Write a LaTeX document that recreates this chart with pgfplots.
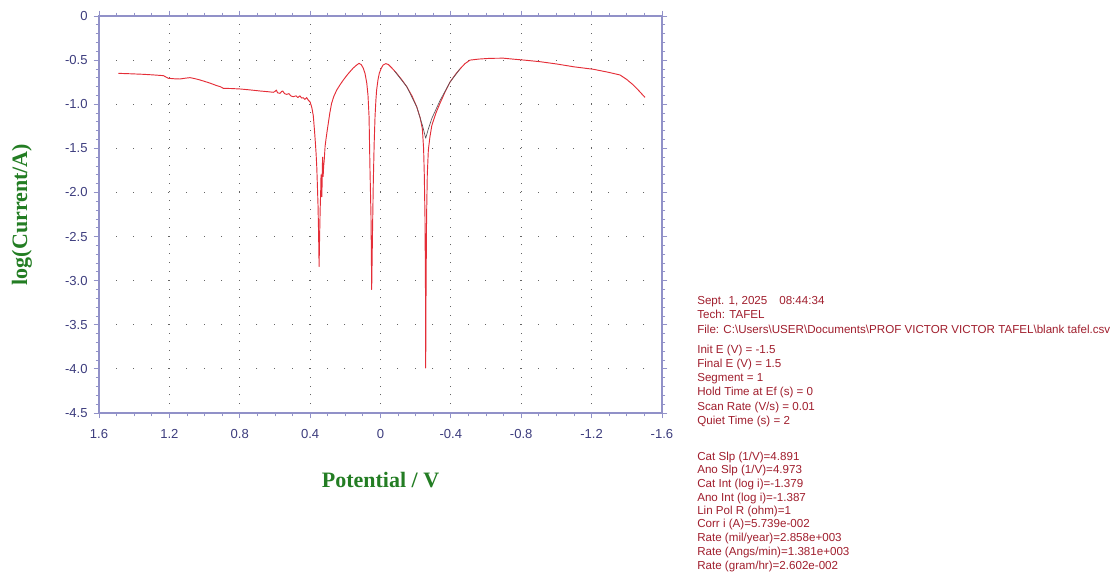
\documentclass[border=0pt]{standalone}
\usepackage{pgfplots}
\pgfplotsset{compat=1.18}
\usepackage{fontspec}
\setmainfont{Liberation Sans}
\newfontfamily\labelserif{Liberation Serif}

\definecolor{curvered}{RGB}{228,45,55}
\definecolor{fitgray}{RGB}{95,85,90}
\definecolor{frameblue}{RGB}{145,145,200}
\definecolor{ticktext}{RGB}{60,60,125}
\definecolor{labelgreen}{RGB}{35,125,35}
\definecolor{infored}{RGB}{160,30,45}
\definecolor{griddot}{RGB}{100,100,100}

\begin{document}
\begin{tikzpicture}
\useasboundingbox (0pt,0pt) rectangle (837.75pt,-430.5pt);
\begin{axis}[
  at={(74.25pt,-12pt)}, anchor=north west,
  scale only axis, width=422.25pt, height=297.75pt,
  x dir=reverse,
  xmin=-1.6, xmax=1.6, ymin=-4.5, ymax=0,
  xtick={-1.6,-1.2,-0.8,-0.4,0,0.4,0.8,1.2,1.6},
  xticklabels={-1.6,-1.2,-0.8,-0.4,0,0.4,0.8,1.2,1.6},
  ytick={-4.5,-4,-3.5,-3,-2.5,-2,-1.5,-1,-0.5,0},
  yticklabels={-4.5,-4.0,-3.5,-3.0,-2.5,-2.0,-1.5,-1.0,-0.5,0},
  minor x tick num=3, minor y tick num=4,
  tick align=outside,
  major tick length=4pt, minor tick length=2.5pt,
  every tick/.style={frameblue, line width=0.6pt},
  axis line style={frameblue, line width=1pt},
  tick label style={ticktext, font=\fontsize{9.8}{11}\selectfont},
  /pgf/number format/assume math mode=true,
  xticklabel style={yshift=-5pt},
  yticklabel style={xshift=-1pt},
  grid=major,
  x grid style={griddot, line width=0.7pt, dash pattern=on 0.7pt off 5.917pt},
  y grid style={griddot, line width=0.7pt, dash pattern=on 0.7pt off 12.495pt},
  xlabel={Potential / V},
  ylabel={log(Current/A)},
  xlabel style={at={(axis description cs:0.5,-0.169)}, anchor=center,
    font=\labelserif\bfseries\fontsize{16.5}{18}\selectfont, labelgreen},
  ylabel style={at={(axis description cs:-0.137,0.5)}, anchor=center, rotate=0,
    font=\labelserif\bfseries\fontsize{16.5}{18}\selectfont, labelgreen},
]
% measured log current against potential
\addplot[curvered, line width=0.7pt, line join=round] coordinates {
(1.490,-0.650) (1.420,-0.655) (1.348,-0.661) (1.290,-0.668) (1.234,-0.676)
(1.206,-0.706) (1.170,-0.712) (1.140,-0.714) (1.110,-0.705) (1.083,-0.699)
(1.055,-0.710) (1.026,-0.725) (0.970,-0.760) (0.930,-0.790) (0.912,-0.800)
(0.893,-0.820) (0.850,-0.822) (0.800,-0.827) (0.740,-0.838) (0.685,-0.850)
(0.640,-0.858) (0.609,-0.865) (0.600,-0.855) (0.592,-0.840) (0.585,-0.870)
(0.571,-0.877) (0.562,-0.855) (0.556,-0.850) (0.545,-0.880) (0.533,-0.888)
(0.520,-0.880) (0.510,-0.905) (0.496,-0.915) (0.480,-0.905) (0.470,-0.925)
(0.458,-0.905) (0.448,-0.930) (0.439,-0.926) (0.430,-0.945) (0.420,-0.925)
(0.410,-0.955) (0.400,-0.975) (0.390,-1.040) (0.382,-1.130) (0.375,-1.300)
(0.370,-1.440) (0.366,-1.560) (0.362,-1.720) (0.359,-1.900) (0.355,-2.150)
(0.352,-2.450) (0.349,-2.840) (0.346,-2.500) (0.343,-2.200) (0.340,-2.000)
(0.338,-1.800) (0.336,-1.950) (0.333,-2.050) (0.331,-1.750) (0.329,-1.600)
(0.326,-1.820) (0.323,-1.700) (0.320,-1.640) (0.315,-1.480) (0.310,-1.400)
(0.303,-1.300) (0.297,-1.220) (0.288,-1.100) (0.278,-0.990) (0.265,-0.910)
(0.249,-0.840) (0.230,-0.780) (0.211,-0.725) (0.190,-0.670) (0.173,-0.630)
(0.155,-0.590) (0.135,-0.555) (0.122,-0.537) (0.110,-0.550) (0.098,-0.590)
(0.088,-0.650) (0.078,-0.760) (0.071,-0.900) (0.065,-1.140) (0.060,-1.710)
(0.054,-2.270) (0.050,-3.100) (0.045,-2.400) (0.041,-1.900) (0.036,-1.450)
(0.031,-1.140) (0.026,-0.950) (0.022,-0.840) (0.014,-0.720) (0.007,-0.650)
(-0.005,-0.590) (-0.015,-0.555) (-0.030,-0.540) (-0.045,-0.550) (-0.065,-0.590)
(-0.092,-0.650) (-0.120,-0.720) (-0.149,-0.800) (-0.180,-0.910) (-0.206,-1.030)
(-0.225,-1.150) (-0.238,-1.280) (-0.245,-1.500) (-0.249,-1.800) (-0.253,-2.300)
(-0.256,-3.200) (-0.257,-3.990) (-0.259,-3.100) (-0.262,-2.270) (-0.266,-1.800)
(-0.272,-1.520) (-0.281,-1.370) (-0.292,-1.240) (-0.315,-1.100) (-0.338,-0.990)
(-0.365,-0.870) (-0.395,-0.750) (-0.425,-0.665) (-0.452,-0.600) (-0.480,-0.540)
(-0.509,-0.500) (-0.560,-0.488) (-0.622,-0.480) (-0.698,-0.478) (-0.760,-0.490)
(-0.812,-0.499) (-0.907,-0.518) (-1.002,-0.544) (-1.096,-0.575) (-1.210,-0.604)
(-1.300,-0.640) (-1.362,-0.669) (-1.400,-0.720) (-1.437,-0.782) (-1.470,-0.850)
(-1.503,-0.922)
};
% Tafel fit branches meeting at the corrosion point
\addplot[fitgray, line width=0.5pt, line join=round] coordinates {
(-0.080,-0.625) (-0.149,-0.800) (-0.206,-1.030) (-0.240,-1.250) (-0.257,-1.386)
(-0.272,-1.280) (-0.292,-1.160) (-0.338,-0.960) (-0.395,-0.750) (-0.452,-0.600)
};
\end{axis}

% run information
\begin{scope}[x=0.75pt,y=-0.75pt, every node/.style={anchor=base west, inner sep=0pt, infored,
    font=\fontsize{8.7}{10}\selectfont}]
\node at (697,304) {Sept. 1, 2025\hspace{9pt}08:44:34};
\node at (697,318) {Tech: TAFEL};
\node at (697,333) {File: C:\textbackslash Users\textbackslash USER\textbackslash Documents\textbackslash PROF VICTOR VICTOR TAFEL\textbackslash blank tafel.csv};
\node at (697,353) {Init E (V) = -1.5};
\node at (697,367) {Final E (V) = 1.5};
\node at (697,381) {Segment = 1};
\node at (697,395) {Hold Time at Ef (s) = 0};
\node at (697,410) {Scan Rate (V/s) = 0.01};
\node at (697,424) {Quiet Time (s) = 2};
\node at (697,460) {Cat Slp (1/V)=4.891};
\node at (697,473) {Ano Slp (1/V)=4.973};
\node at (697,487) {Cat Int (log i)=-1.379};
\node at (697,501) {Ano Int (log i)=-1.387};
\node at (697,514) {Lin Pol R (ohm)=1};
\node at (697,527) {Corr i (A)=5.739e-002};
\node at (697,541) {Rate (mil/year)=2.858e+003};
\node at (697,555) {Rate (Angs/min)=1.381e+003};
\node at (697,569) {Rate (gram/hr)=2.602e-002};
\end{scope}
\end{tikzpicture}
\end{document}
